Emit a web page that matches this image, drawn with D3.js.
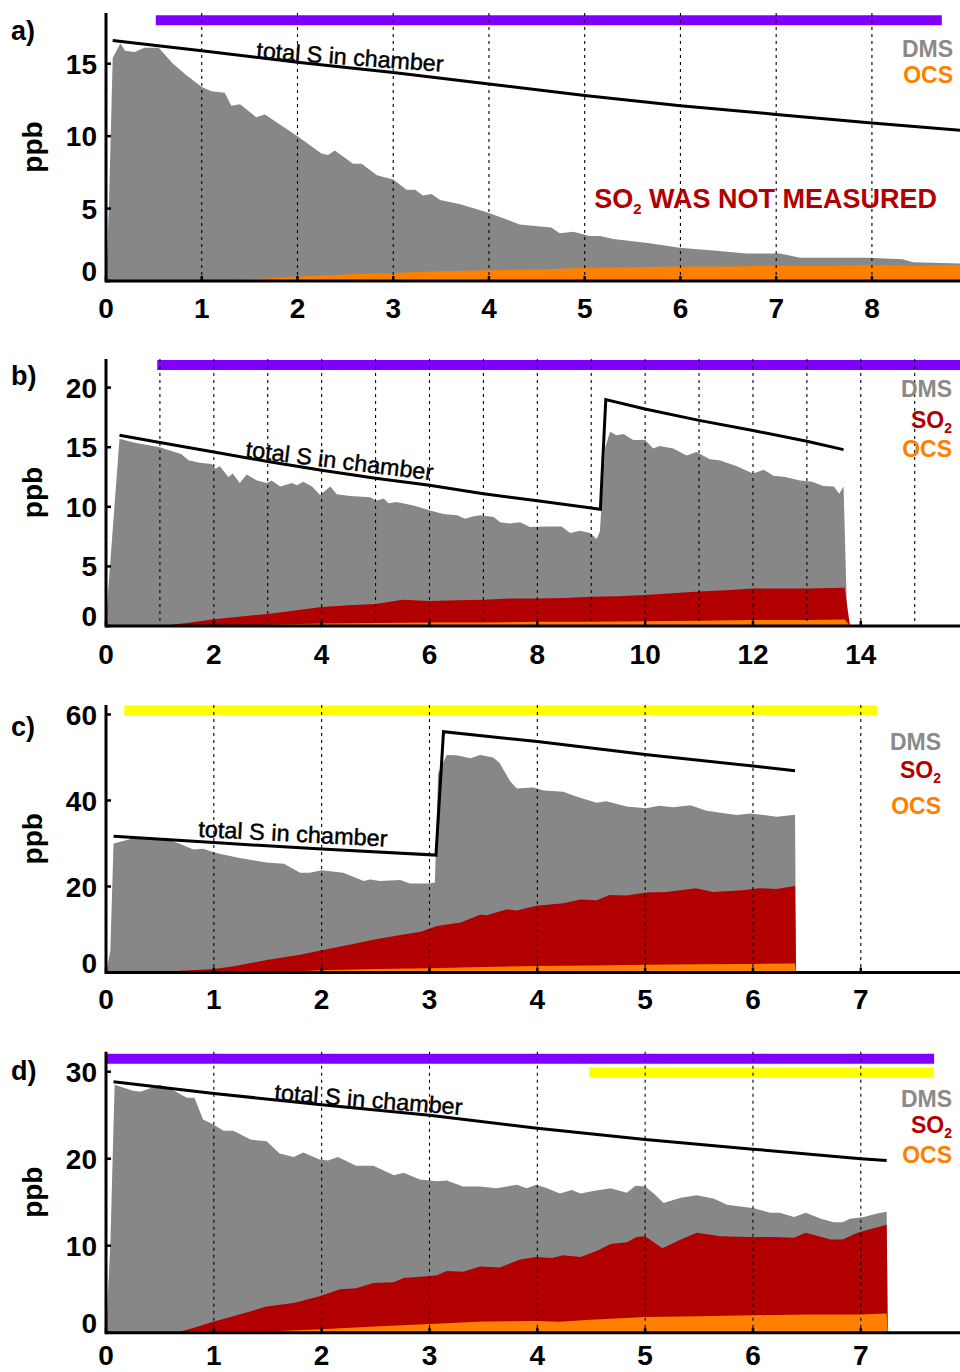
<!DOCTYPE html>
<html><head><meta charset="utf-8">
<script src="https://cdn.jsdelivr.net/npm/d3@7"></script>
<style>body{margin:0;background:#fff}svg{display:block}text{font-family:"Liberation Sans",Arial,sans-serif}</style>
</head><body>
<svg id="chart" width="960" height="1372"></svg>
<script>
// ---------- DATA (x = time, y = ppb; area arrays are stacked layer tops) ----------
// Panel a
const totalA = [[0.07,16.6],[1,15.9],[2,15.1],[3,14.4],[4,13.6],[5,12.8],[6,12.1],[7,11.5],[8,10.9],[8.92,10.4]];
const dmsTopA = [[0,0],[0.03,5],[0.07,15.4],[0.15,16.4],[0.2,15.9],[0.3,15.8],[0.4,16.1],[0.55,16.1],[0.7,15.0],[0.84,14.2],[1.0,13.4],[1.1,13.1],[1.24,13.0],[1.31,12.1],[1.4,12.2],[1.57,11.3],[1.66,11.5],[2.0,10.0],[2.25,8.8],[2.32,8.7],[2.39,9.0],[2.58,8.1],[2.67,8.1],[2.83,7.3],[3.0,7.0],[3.14,6.3],[3.23,6.3],[3.31,5.9],[3.4,6.0],[3.49,5.6],[3.7,5.3],[3.9,4.9],[4.0,4.7],[4.32,3.9],[4.65,3.7],[4.74,3.3],[4.88,3.4],[5.05,3.1],[5.16,3.1],[5.3,2.9],[5.68,2.6],[5.99,2.3],[6.34,2.1],[6.69,1.9],[7.04,1.9],[7.25,1.6],[7.56,1.6],[7.97,1.6],[8.32,1.5],[8.43,1.3],[8.92,1.2]];
const ocsTopA = [[0,0],[1.2,0],[1.6,0.15],[2,0.3],[2.5,0.45],[3,0.55],[3.5,0.68],[4,0.75],[4.5,0.8],[5,0.9],[5.5,0.95],[6,1.0],[6.5,1.0],[7,1.05],[7.5,1.05],[8,1.1],[8.5,1.05],[8.92,1.1]];
const barsA = [{type:"uv", x0:0.52, x1:8.73, y:18.0}];

// Panel b
const totalB = [[0.25,16.0],[1,15.4],[2,14.6],[3,13.8],[4,13.07],[5,12.4],[6,11.8],[7,11.1],[8,10.5],[9.17,9.8],[9.27,19.0],[10,18.2],[11,17.25],[12,16.4],[13,15.5],[13.68,14.8]];
const dmsTopB = [[0,0.5],[0.25,15.7],[0.51,15.4],[1.0,15.0],[1.4,14.4],[1.53,13.9],[1.74,13.7],[1.96,13.6],[2.03,13.2],[2.11,13.4],[2.27,12.5],[2.35,12.8],[2.48,12.0],[2.61,12.7],[2.8,12.2],[2.98,12.0],[3.07,12.2],[3.23,11.7],[3.45,12.0],[3.54,11.8],[3.66,12.1],[3.82,11.7],[3.97,11.0],[4.16,11.7],[4.28,11.05],[4.53,10.9],[4.9,10.8],[5.02,10.5],[5.15,10.7],[5.24,10.3],[5.39,10.4],[5.7,10.1],[6.01,9.7],[6.26,9.4],[6.51,9.3],[6.66,9.0],[6.82,9.2],[6.94,9.3],[7.19,9.15],[7.31,8.7],[7.49,8.6],[7.68,8.7],[7.86,8.3],[8.18,8.35],[8.45,8.35],[8.61,7.8],[8.79,8.0],[8.98,7.8],[9.1,7.3],[9.16,7.9],[9.26,15.0],[9.35,16.3],[9.47,16.0],[9.6,16.1],[9.78,15.6],[10.0,15.6],[10.15,14.9],[10.27,15.1],[10.52,14.9],[10.77,14.3],[10.95,14.6],[11.2,14.0],[11.38,13.9],[11.7,13.4],[12.0,12.8],[12.2,13.1],[12.38,12.6],[12.6,12.5],[12.87,12.2],[13.1,12.1],[13.3,11.75],[13.5,11.7],[13.6,11.1],[13.68,11.7],[13.75,0]];
const so2TopB = [[0,0],[1.0,0],[1.5,0.25],[2,0.56],[2.5,0.8],[3,1.0],[3.5,1.3],[4,1.6],[4.5,1.75],[5,1.85],[5.5,2.2],[6,2.1],[6.5,2.15],[7,2.2],[7.5,2.3],[8,2.3],[8.5,2.35],[9,2.45],[9.5,2.5],[10,2.6],[10.5,2.75],[11,2.9],[11.5,3.0],[12,3.15],[12.5,3.15],[13,3.15],[13.7,3.2],[13.8,0]];
const ocsTopB = [[0,0],[2,0],[3,0.1],[4,0.2],[5,0.25],[6,0.3],[7,0.3],[8,0.35],[9,0.35],[10,0.4],[11,0.45],[12,0.5],[13,0.5],[13.7,0.55],[13.8,0]];
const barsB = [{type:"uv", x0:0.95, x1:15.84, y:21.9}];

// Panel c
const totalC = [[0.07,31.7],[1,30.2],[2,28.7],[3.06,27.3],[3.13,56.0],[4,53.7],[5,50.7],[6,48.0],[6.39,46.9]];
const dmsTopC = [[0,0],[0.04,5],[0.07,30.0],[0.255,31.2],[0.56,31.0],[0.69,29.9],[0.81,28.6],[0.9,28.8],[1.03,27.7],[1.24,26.6],[1.49,25.6],[1.65,25.3],[1.8,23.2],[1.89,23.2],[2.0,23.8],[2.2,23.2],[2.39,21.3],[2.45,21.6],[2.54,21.3],[2.73,21.5],[2.82,20.7],[3.0,20.7],[3.05,20.9],[3.08,46.3],[3.16,50.6],[3.25,50.5],[3.38,49.8],[3.47,50.6],[3.59,50.0],[3.65,48.7],[3.75,44.4],[3.81,42.8],[3.96,43.0],[4.06,42.3],[4.24,42.0],[4.36,40.9],[4.55,39.5],[4.64,39.8],[4.83,38.6],[5.01,38.2],[5.13,38.8],[5.26,38.4],[5.42,38.9],[5.57,37.6],[5.85,36.6],[5.97,37.0],[6.1,36.6],[6.22,36.2],[6.39,36.7],[6.4,0]];
const so2TopC = [[0,0],[0.4,0],[1.0,0.8],[1.2,1.5],[1.49,2.9],[1.8,4.1],[2.0,5.2],[2.27,6.5],[2.49,7.7],[2.73,8.7],[2.92,9.5],[3.07,10.8],[3.29,11.6],[3.47,13.4],[3.53,13.3],[3.72,14.7],[3.81,14.4],[3.99,15.5],[4.24,16.1],[4.4,17.0],[4.55,16.8],[4.67,18.0],[4.83,17.9],[5.01,18.6],[5.2,18.7],[5.47,19.6],[5.63,18.7],[5.9,19.1],[6.06,19.6],[6.22,19.4],[6.39,20.1],[6.4,0]];
const ocsTopC = [[0,0],[1.5,0],[2,0.5],[2.5,0.8],[3,1.0],[3.5,1.3],[4,1.5],[4.5,1.65],[5,1.8],[5.5,1.9],[6,2.0],[6.39,2.1],[6.4,0]];
const barsC = [{type:"vis", x0:0.17, x1:7.15, y:60.9}];

// Panel d
const totalD = [[0.07,28.85],[1,27.5],[2,26.2],[3,25.0],[4,23.5],[5,22.2],[6,21.1],[7,20.0],[7.24,19.8]];
const dmsTopD = [[0,0],[0.04,10],[0.08,28.5],[0.25,27.8],[0.32,27.7],[0.5,28.5],[0.62,27.9],[0.75,27.0],[0.82,27.0],[0.9,24.5],[1.0,23.9],[1.09,23.2],[1.18,23.2],[1.34,22.2],[1.49,22.0],[1.61,20.6],[1.74,20.2],[1.83,20.7],[1.98,19.9],[2.06,19.8],[2.15,20.2],[2.32,19.2],[2.48,19.2],[2.67,18.1],[2.76,18.4],[2.91,17.6],[3.07,17.4],[3.16,17.5],[3.31,16.8],[3.47,16.8],[3.62,16.6],[3.81,17.0],[3.9,16.6],[3.99,17.0],[4.09,16.6],[4.21,16.0],[4.32,16.4],[4.4,16.0],[4.52,16.3],[4.68,16.6],[4.83,16.1],[4.91,16.9],[5.0,16.8],[5.08,16.0],[5.17,14.9],[5.33,15.5],[5.48,15.8],[5.64,15.4],[5.76,14.7],[6.01,14.3],[6.16,13.8],[6.25,13.8],[6.38,13.3],[6.49,13.8],[6.63,13.1],[6.75,12.7],[6.83,12.7],[6.9,13.1],[7.03,13.3],[7.15,13.7],[7.24,13.9],[7.25,0]];
const so2TopD = [[0,0],[0.65,0],[0.8,0.5],[1.0,1.3],[1.18,1.9],[1.49,3.0],[1.74,3.4],[1.98,4.2],[2.17,5.0],[2.32,5.1],[2.48,5.7],[2.67,5.8],[2.76,6.3],[2.98,6.5],[3.07,6.6],[3.16,7.1],[3.31,7.0],[3.47,7.6],[3.65,7.5],[3.84,8.4],[3.99,8.7],[4.14,8.6],[4.24,8.9],[4.4,8.7],[4.55,9.4],[4.68,10.2],[4.83,10.4],[4.92,11.0],[5.0,11.1],[5.16,9.7],[5.33,10.7],[5.48,11.5],[5.7,11.1],[5.95,11.0],[6.19,11.0],[6.38,10.9],[6.49,11.5],[6.72,10.7],[6.83,10.7],[6.97,11.5],[7.06,11.8],[7.24,12.4],[7.25,0]];
const ocsTopD = [[0,0],[1.2,0],[2,0.4],[2.5,0.7],[3,1.0],[3.5,1.3],[4,1.35],[4.2,1.25],[4.5,1.5],[5,1.8],[5.5,1.9],[6,2.0],[6.5,2.1],[7,2.1],[7.24,2.2],[7.25,0]];
const barsD = [{type:"uv", x0:0.0, x1:7.68, y:31.5},{type:"vis", x0:4.48, x1:7.68, y:29.9}];

// Axis ticks / labels
const xTicksA = [0,1,2,3,4,5,6,7,8], yTicksA = [0,5,10,15];
const xTicksB = [0,2,4,6,8,10,12,14], yTicksB = [0,5,10,15,20];
const xTicksC = [0,1,2,3,4,5,6,7], yTicksC = [0,20,40,60];
const xTicksD = [0,1,2,3,4,5,6,7], yTicksD = [0,10,20,30];
const gridA = [1,2,3,4,5,6,7,8], gridB = [1,2,3,4,5,6,7,8,9,10,11,12,13,14,15];
const gridC = [1,2,3,4,5,6,7], gridD = [1,2,3,4,5,6,7];
const panelLabels = ["a)","b)","c)","d)"];
// "total S in chamber" label: start / end points in data units
const totLabA = [[1.566,15.39],[3.52,14.44]];
const totLabB = [[2.58,14.18],[6.05,12.23]];
const totLabC = [[0.853,31.58],[2.607,29.26]];
const totLabD = [[1.558,26.75],[3.30,25.02]];
const legendA = ["DMS","OCS"], legendB = ["DMS","SO2","OCS"], legendC = ["DMS","SO2","OCS"], legendD = ["DMS","SO2","OCS"];

// ---------- STYLE / LAYOUT ----------
const C = {DMS:"#878787", SO2:"#b20000", OCS:"#ff8000", uv:"#8000ff", vis:"#ffff00"};
const LEG = {DMS:"#8a8a8a", SO2:"#b20000", OCS:"#ff8000"};
const panels = [
 {lab:panelLabels[0], labY:40, xMax:8.92, yMax:18.5, top:13, bottom:281, xT:xTicksA, yT:yTicksA, grid:gridA, xLabGap:37,
  layers:[["DMS",dmsTopA],["OCS",ocsTopA]], total:totalA, bars:barsA, tl:totLabA, leg:legendA, legX:953, legY:[57,83], note:true},
 {lab:panelLabels[1], labY:385, xMax:15.84, yMax:22.4, top:359, bottom:626, xT:xTicksB, yT:yTicksB, grid:gridB, xLabGap:38,
  layers:[["DMS",dmsTopB],["SO2",so2TopB],["OCS",ocsTopB]], total:totalB, bars:barsB, tl:totLabB, leg:legendB, legX:952, legY:[397,428,457]},
 {lab:panelLabels[2], labY:736, xMax:7.92, yMax:62.2, top:705, bottom:972.5, xT:xTicksC, yT:yTicksC, grid:gridC, xLabGap:36,
  layers:[["DMS",dmsTopC],["SO2",so2TopC],["OCS",ocsTopC]], total:totalC, bars:barsC, tl:totLabC, leg:legendC, legX:941, legY:[750,778,814]},
 {lab:panelLabels[3], labY:1080, xMax:7.92, yMax:32.3, top:1051.7, bottom:1332.7, xT:xTicksD, yT:yTicksD, grid:gridD, xLabGap:32,
  layers:[["DMS",dmsTopD],["SO2",so2TopD],["OCS",ocsTopD]], total:totalD, bars:barsD, tl:totLabD, leg:legendD, legX:952, legY:[1107,1133,1163]}
];
const L = 106, R = 960;
const svg = d3.select("#chart");

function addName(sel, name, subSize){
  if(name === "SO2"){
    sel.append("tspan").text("SO");
    sel.append("tspan").attr("font-size", subSize).attr("dy", 5).text("2");
  } else sel.text(name);
}

panels.forEach(p => {
  const g = svg.append("g");
  const x = d3.scaleLinear().domain([0, p.xMax]).range([L, R]);
  const y = d3.scaleLinear().domain([0, p.yMax]).range([p.bottom, p.top]);

  // stacked areas
  p.layers.forEach(([name, pts]) => {
    const area = d3.area().x(d => x(d[0])).y0(y(0)).y1(d => y(d[1]));
    g.append("path").datum(pts).attr("d", area).attr("fill", C[name]);
  });

  // bars (lamp periods)
  p.bars.forEach(b => {
    g.append("line").attr("x1", x(b.x0)).attr("x2", x(b.x1)).attr("y1", y(b.y)).attr("y2", y(b.y))
     .attr("stroke", C[b.type]).attr("stroke-width", 10);
  });

  // dashed vertical grid
  p.grid.forEach(v => {
    g.append("line").attr("x1", x(v)).attr("x2", x(v)).attr("y1", p.top).attr("y2", p.bottom)
     .attr("stroke", "#000").attr("stroke-width", 1.1).attr("stroke-dasharray", "3,4");
  });

  // total S line
  g.append("path").datum(p.total).attr("d", d3.line().x(d => x(d[0])).y(d => y(d[1])))
   .attr("fill", "none").attr("stroke", "#000").attr("stroke-width", 3).attr("stroke-linejoin", "miter");

  // total S label
  const [a0, a1] = p.tl;
  const x0 = x(a0[0]), y0 = y(a0[1]), x1 = x(a1[0]), y1 = y(a1[1]);
  const ang = Math.atan2(y1 - y0, x1 - x0) * 180 / Math.PI;
  const len = Math.hypot(x1 - x0, y1 - y0);
  g.append("text").attr("transform", `translate(${x0},${y0}) rotate(${ang})`)
   .attr("font-size", 23).attr("textLength", len).attr("lengthAdjust", "spacingAndGlyphs")
   .attr("stroke", "#000").attr("stroke-width", 0.45)
   .text("total S in chamber");

  // axes
  g.append("line").attr("x1", L).attr("x2", R).attr("y1", p.bottom).attr("y2", p.bottom)
   .attr("stroke", "#000").attr("stroke-width", 3);
  g.append("line").attr("x1", L).attr("x2", L).attr("y1", p.top).attr("y2", p.bottom + 1.5)
   .attr("stroke", "#000").attr("stroke-width", 3);
  p.xT.forEach(v => {
    g.append("line").attr("x1", x(v)).attr("x2", x(v)).attr("y1", p.bottom).attr("y2", p.bottom - 5)
     .attr("stroke", "#000").attr("stroke-width", 2.5);
    g.append("text").attr("x", x(v)).attr("y", p.bottom + p.xLabGap).attr("text-anchor", "middle")
     .attr("font-size", 28).attr("font-weight", "bold").text(v);
  });
  p.yT.forEach(v => {
    g.append("line").attr("x1", L).attr("x2", L + 5).attr("y1", y(v)).attr("y2", y(v))
     .attr("stroke", "#000").attr("stroke-width", 2.5);
    const t = g.append("text").attr("x", 97).attr("y", y(v)).attr("text-anchor", "end")
     .attr("font-size", 28).attr("font-weight", "bold").text(v);
    if (v !== 0) t.attr("dy", "0.36em");
  });

  // y label
  g.append("text").attr("transform", `translate(42,${(p.top + p.bottom) / 2}) rotate(-90)`)
   .attr("text-anchor", "middle").attr("font-size", 28).attr("font-weight", "bold").text("ppb");

  // panel label
  g.append("text").attr("x", 11).attr("y", p.labY).attr("font-size", 27).attr("font-weight", "bold").text(p.lab);

  // legend
  p.leg.forEach((name, i) => {
    const t = g.append("text").attr("x", p.legX).attr("y", p.legY[i]).attr("text-anchor", "end")
     .attr("font-size", 23).attr("font-weight", "bold").attr("fill", LEG[name]);
    addName(t, name, 14);
  });

  if (p.note) {
    const t = g.append("text").attr("x", 937).attr("y", 208).attr("text-anchor", "end")
     .attr("font-size", 27).attr("font-weight", "bold").attr("fill", C.SO2);
    t.append("tspan").text("SO");
    t.append("tspan").attr("font-size", 15).attr("dy", 6).text("2");
    t.append("tspan").attr("dy", -6).text(" WAS NOT MEASURED");
  }
});
</script>
</body></html>
